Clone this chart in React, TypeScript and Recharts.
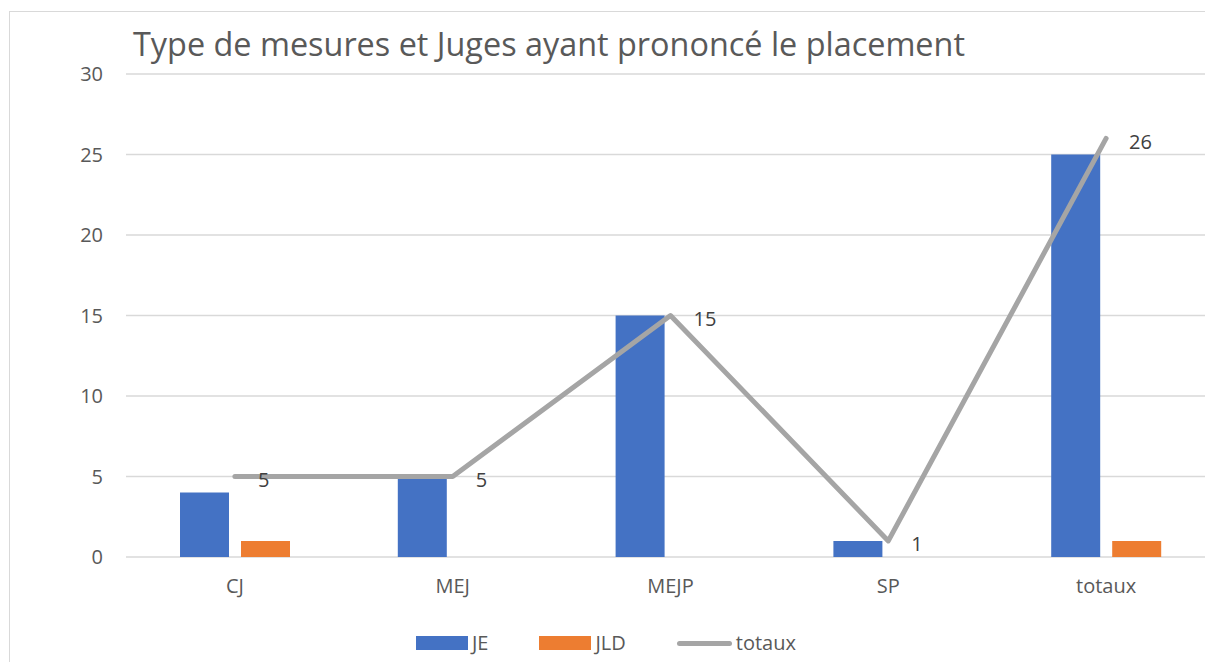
import React from "react";
import { ComposedChart, Bar, Line, XAxis, YAxis, CartesianGrid, Legend, LabelList } from "recharts";

const categories = ["CJ", "MEJ", "MEJP", "SP", "totaux"];
const jeValues = [4, 5, 15, 1, 25];
const jldValues = [1, 0, 0, 0, 1];
const totauxValues = [5, 5, 15, 1, 26];
const yTicks = [0, 5, 10, 15, 20, 25, 30];
const title = "Type de mesures et Juges ayant prononcé le placement";

const data = categories.map((c, i) => ({
  name: c,
  JE: jeValues[i],
  JLD: jldValues[i],
  totaux: totauxValues[i],
}));

const FONT = "'Open Sans', sans-serif";
const TEXT = "#595959";

const legendItems = [
  { name: "JE", color: "#4472c4", type: "rect" },
  { name: "JLD", color: "#ed7d31", type: "rect" },
  { name: "totaux", color: "#a5a5a5", type: "line" },
];

const renderLegend = () => (
  <div style={{ display: "flex", justifyContent: "flex-start", paddingLeft: 410, height: 30, alignItems: "center", fontFamily: FONT, fontSize: 20, color: TEXT }}>
    {legendItems.map((it) => (
      <div key={it.name} style={{ display: "flex", alignItems: "center", marginRight: 51 }}>
        {it.type === "rect" ? (
          <div style={{ width: 52, height: 14, background: it.color }} />
        ) : (
          <div style={{ width: 55, height: 5, borderRadius: 3, background: it.color }} />
        )}
        <span style={{ marginLeft: 4, lineHeight: "20px" }}>{it.name}</span>
      </div>
    ))}
  </div>
);

export default function App() {
  return (
    <div style={{ position: "absolute", left: 0, top: 0, width: 1205, height: 662, overflow: "hidden", background: "#fff" }}>
      <div style={{ position: "absolute", left: 9, top: 11, width: 1400, height: 800, border: "1px solid #d9d9d9", boxSizing: "border-box" }} />
      <div style={{ position: "absolute", left: 133, top: 21, fontFamily: FONT, fontSize: 32.4, color: TEXT, whiteSpace: "nowrap", lineHeight: "44px" }}>
        {title}
      </div>
      <div style={{ position: "absolute", left: 0, top: 0 }}>
        <ComposedChart
          width={1230}
          height={662}
          data={data}
          margin={{ top: 74, right: 15, left: 6, bottom: 25 }}
          barGap={12}
        >
          <CartesianGrid vertical={false} stroke="#d9d9d9" strokeWidth={1.5} />
          <XAxis
            dataKey="name"
            axisLine={false}
            tickLine={false}
            tickSize={0}
            tickMargin={22}
            height={50}
            tick={{ fill: TEXT, fontSize: 20, fontFamily: FONT }}
          />
          <YAxis
            domain={[0, 30]}
            ticks={yTicks}
            width={120}
            axisLine={false}
            tickLine={false}
            tickSize={0}
            tickMargin={23}
            tick={{ fill: TEXT, fontSize: 20, fontFamily: FONT }}
          />
          <Legend verticalAlign="bottom" content={renderLegend} wrapperStyle={{ bottom: 4 }} />
          <Bar dataKey="JE" fill="#4472c4" barSize={49} isAnimationActive={false} />
          <Bar dataKey="JLD" fill="#ed7d31" barSize={49} isAnimationActive={false} />
          <Line
            dataKey="totaux"
            stroke="#a5a5a5"
            strokeWidth={5}
            strokeLinecap="round"
            strokeLinejoin="round"
            dot={false}
            activeDot={false}
            isAnimationActive={false}
          >
            <LabelList dataKey="totaux" position="right" offset={23} fill="#404040" fontSize={20} fontFamily={FONT} dy={3} />
          </Line>
        </ComposedChart>
      </div>
    </div>
  );
}
